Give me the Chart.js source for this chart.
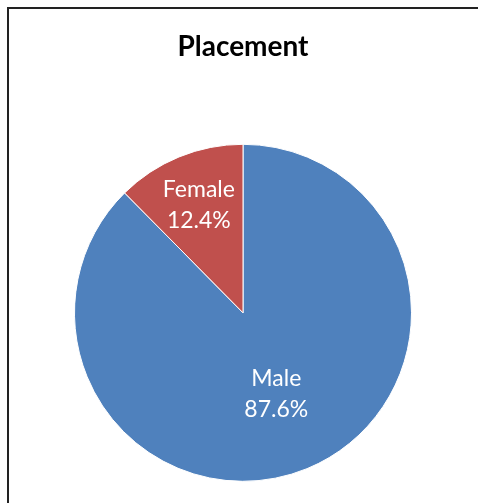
<!DOCTYPE html>
<html>
<head>
<meta charset="utf-8">
<script src="https://cdn.jsdelivr.net/npm/chart.js@4"></script>
<style>
  html, body { margin: 0; padding: 0; background: #fff; }
  .wrap { position: relative; width: 478px; height: 503px; overflow: hidden; }
  .frame {
    position: absolute; left: 7px; top: 7px; width: 500px; height: 520px;
    border-top: 2px solid #222; border-left: 2px solid #222;
    box-sizing: border-box; pointer-events: none;
  }
  canvas { position: absolute; left: 0; top: 0; }
</style>
</head>
<body>
<div class="wrap">
  <canvas id="chart" width="478" height="503"></canvas>
  <div class="frame"></div>
</div>
<script>
// data
const chartTitle = 'Placement';
const categories = ['Male', 'Female'];
const shares = [87.6, 12.4];
const colors = ['#4F81BD', '#C0504D'];

// labels inside the slices: category on one line, percent below
const sliceLabels = {
    id: 'sliceLabels',
    afterDatasetsDraw(chart, args, opts) {
        const ctx = chart.ctx;
        const meta = chart.getDatasetMeta(0);
        ctx.save();
        ctx.font = opts.font;
        ctx.fillStyle = opts.color;
        ctx.textAlign = 'center';
        ctx.textBaseline = 'middle';
        meta.data.forEach((arc, i) => {
            const p = arc.getProps(['x', 'y', 'startAngle', 'endAngle', 'outerRadius'], true);
            const mid = (p.startAngle + p.endAngle) / 2;
            const r = p.outerRadius * opts.radius[i];
            const cx = p.x + Math.cos(mid) * r;
            const cy = p.y + Math.sin(mid) * r;
            const value = chart.data.datasets[0].data[i];
            ctx.fillText(chart.data.labels[i], cx, cy - opts.lineGap / 2);
            ctx.fillText(value.toFixed(1) + '%', cx, cy + opts.lineGap / 2);
        });
        ctx.restore();
    }
};

let ctx = document.getElementById('chart').getContext('2d');
let myChart = new Chart(ctx, {
    type: 'pie',
    data: {
        labels: categories,
        datasets: [{
            data: shares,
            backgroundColor: colors,
            borderColor: '#ffffff',
            borderWidth: 1
        }]
    },
    options: {
        responsive: false,
        animation: false,
        layout: {
            padding: { top: 10, left: 74, right: 66, bottom: 21 }
        },
        plugins: {
            legend: { display: false },
            tooltip: { enabled: false },
            title: {
                display: true,
                text: chartTitle,
                color: '#000',
                font: { family: 'Lato', size: 28, weight: 'bold' },
                padding: { top: 20, bottom: 80 }
            },
            sliceLabels: {
                font: '23px Lato',
                color: '#ffffff',
                lineGap: 31,
                radius: [0.52, 0.69]
            }
        }
    },
    plugins: [sliceLabels]
});
</script>
</body>
</html>
